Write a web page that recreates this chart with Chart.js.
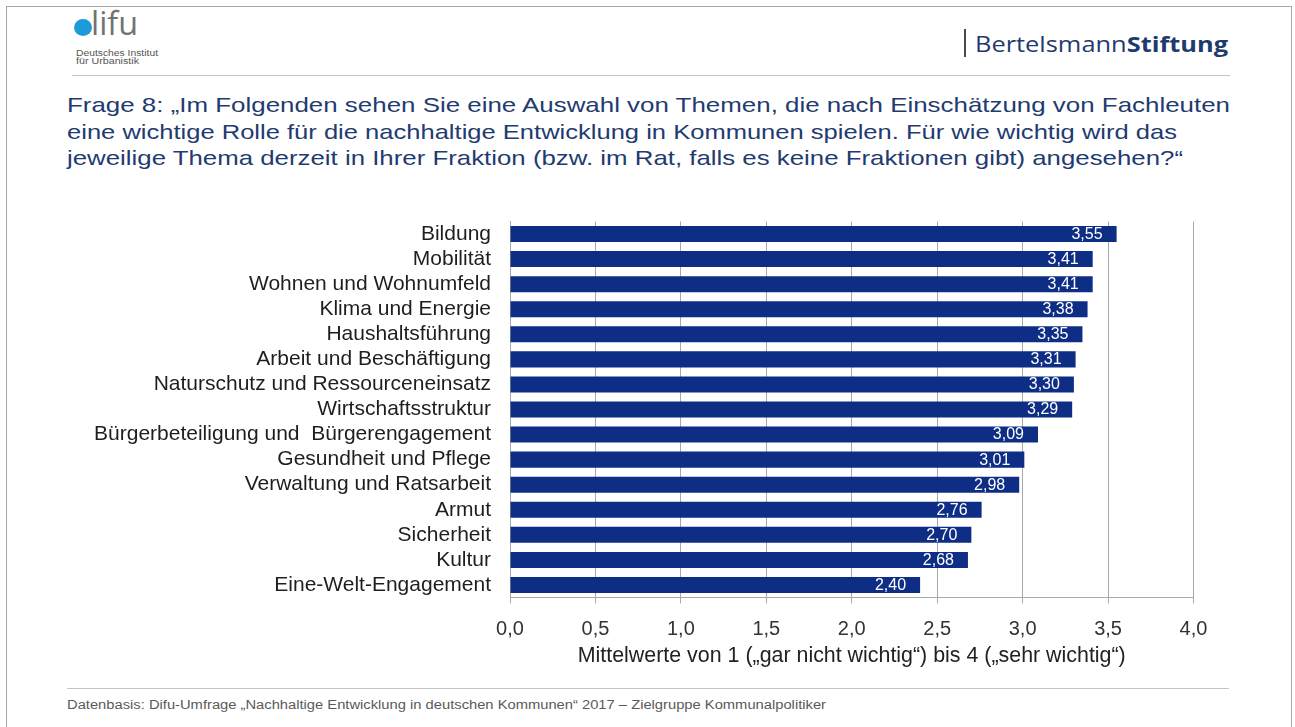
<!DOCTYPE html>
<html lang="de">
<head>
<meta charset="utf-8">
<title>Themen der nachhaltigen Entwicklung – Mittelwerte</title>
<script src="https://cdn.jsdelivr.net/npm/chart.js@4.4.1/dist/chart.umd.min.js"></script>
<style>
  html, body { margin: 0; padding: 0; background: #ffffff; }
  body { width: 1295px; height: 727px; position: relative; overflow: hidden; font-family: "Liberation Sans", Arial, sans-serif; }
  .abs { position: absolute; white-space: pre; transform-origin: 0 50%; }
  #frame { position: absolute; left: 6px; top: 6px; width: 1286px; height: 760px; border: 1px solid #a8a8a8; box-sizing: border-box; }
  .rule { position: absolute; height: 1px; background: #c4c4c4; }
  #dot { position: absolute; left: 74px; top: 19px; width: 18px; height: 17px; border-radius: 50%; background: #1d9ad8; }
  #lifu { left: 91px; top: 3px; font-family: "Open Sans", "Liberation Sans", sans-serif; font-size: 32px; line-height: 40px; color: #727272; }
  .inst { left: 76px; font-size: 8.5px; line-height: 9px; color: #555; }
  #bar { position: absolute; left: 964px; top: 29px; width: 2px; height: 28px; background: #4a4a4a; }
  #bst { left: 975px; top: 28px; font-family: "Open Sans", "Noto Sans", sans-serif; font-size: 22px; line-height: 30px; color: #1f3a6e; }
  #bst b { font-weight: 700; }
  .q { left: 67px; font-size: 21px; line-height: 26px; color: #1f3b70; }
  #foot { left: 67px; top: 697px; font-size: 12px; line-height: 16px; color: #5a5a5a; }
  #wrap { position: absolute; left: 0; top: 200px; width: 1215px; height: 470px; }
</style>
</head>
<body>
<div id="frame"></div>

<div id="dot"></div>
<div id="lifu" class="abs" data-w="47">lifu</div>
<div class="abs inst" style="top:49px" data-w="82">Deutsches Institut</div>
<div class="abs inst" style="top:57px" data-w="63">für Urbanistik</div>
<div class="rule" style="left:72px; top:75px; width:1158px;"></div>

<div id="bar"></div>
<div id="bst" class="abs" data-w="253">Bertelsmann<b>Stiftung</b></div>

<div class="abs q" style="top:92px" data-w="1163">Frage 8: „Im Folgenden sehen Sie eine Auswahl von Themen, die nach Einschätzung von Fachleuten</div>
<div class="abs q" style="top:119px" data-w="1110">eine wichtige Rolle für die nachhaltige Entwicklung in Kommunen spielen. Für wie wichtig wird das</div>
<div class="abs q" style="top:145px" data-w="1116">jeweilige Thema derzeit in Ihrer Fraktion (bzw. im Rat, falls es keine Fraktionen gibt) angesehen?“</div>

<div id="wrap"><canvas id="chart"></canvas></div>

<div class="rule" style="left:67px; top:688px; width:1162px;"></div>
<div id="foot" class="abs" data-w="759">Datenbasis: Difu-Umfrage „Nachhaltige Entwicklung in deutschen Kommunen“ 2017 – Zielgruppe Kommunalpolitiker</div>

<script>
// Themen (von oben nach unten) und ihre Mittelwerte auf der Skala 1–4
const themen = [
  "Bildung",
  "Mobilität",
  "Wohnen und Wohnumfeld",
  "Klima und Energie",
  "Haushaltsführung",
  "Arbeit und Beschäftigung",
  "Naturschutz und Ressourceneinsatz",
  "Wirtschaftsstruktur",
  "Bürgerbeteiligung und  Bürgerengagement",
  "Gesundheit und Pflege",
  "Verwaltung und Ratsarbeit",
  "Armut",
  "Sicherheit",
  "Kultur",
  "Eine-Welt-Engagement"
];
const mittelwerte = [3.55, 3.41, 3.41, 3.38, 3.35, 3.31, 3.30, 3.29, 3.09, 3.01, 2.98, 2.76, 2.70, 2.68, 2.40];

// Achsenwerte der x-Achse
const achsenWerte = [0, 0.5, 1, 1.5, 2, 2.5, 3, 3.5, 4];
const achsenTitel = "Mittelwerte von 1 („gar nicht wichtig“) bis 4 („sehr wichtig“)";

const REGULAR = "'Liberation Sans', Arial, sans-serif";
const komma = (v, d) => v.toFixed(d).replace('.', ',');

// HTML-Texte auf ihre Zielbreite bringen
document.querySelectorAll('[data-w]').forEach(el => {
  const w = el.getBoundingClientRect().width;
  const target = parseFloat(el.dataset.w);
  if (w > 0) el.style.transform = 'scaleX(' + (target / w) + ')';
});

// Werte weiß, rechtsbündig innen am Balkenende
const wertLabels = {
  id: 'wertLabels',
  afterDatasetsDraw(chart) {
    const ctx = chart.ctx;
    const meta = chart.getDatasetMeta(0);
    ctx.save();
    ctx.fillStyle = '#ffffff';
    ctx.font = '16px ' + REGULAR;
    ctx.textAlign = 'right';
    ctx.textBaseline = 'middle';
    meta.data.forEach((bar, i) => {
      ctx.fillText(komma(chart.data.datasets[0].data[i], 2), bar.x - 14, bar.y + 0.5);
    });
    ctx.restore();
  }
};

new Chart(document.getElementById('chart'), {
  type: 'bar',
  data: {
    labels: themen,
    datasets: [{
      data: mittelwerte,
      backgroundColor: '#0e2d84',
      borderWidth: 0,
      barPercentage: 0.64,
      categoryPercentage: 1.0
    }]
  },
  options: {
    indexAxis: 'y',
    responsive: true,
    maintainAspectRatio: false,
    animation: false,
    layout: { padding: { top: 21.5, right: 21.5, bottom: 1.5, left: 0 } },
    plugins: {
      legend: { display: false },
      tooltip: { enabled: false }
    },
    scales: {
      x: {
        min: 0,
        max: 4,
        afterBuildTicks(scale) { scale.ticks = achsenWerte.map(v => ({ value: v })); },
        afterFit(scale) { scale.height = 71; scale.paddingLeft = 0; scale.paddingRight = 0; },
        grid: { color: '#a9a9a9', lineWidth: 1, drawTicks: true, tickLength: 6, tickColor: '#a9a9a9' },
        border: { display: true, color: '#a9a9a9', width: 1 },
        ticks: {
          padding: 14,
          color: '#333333',
          font: { family: REGULAR, size: 20 },
          callback: v => komma(v, 1)
        },
        title: {
          display: true,
          text: achsenTitel,
          color: '#222222',
          font: { family: REGULAR, size: 21.4, lineHeight: 1.2 },
          padding: { top: 0, bottom: 0 }
        }
      },
      y: {
        afterFit(scale) { scale.width = 510; scale.paddingTop = 0; scale.paddingBottom = 0; },
        grid: { display: false, drawTicks: false },
        border: { display: true, color: '#a9a9a9', width: 1 },
        ticks: {
          padding: 19,
          color: '#1e1e1e',
          font: { family: REGULAR, size: 21 },
          autoSkip: false
        }
      }
    }
  },
  plugins: [wertLabels]
});
</script>
</body>
</html>
